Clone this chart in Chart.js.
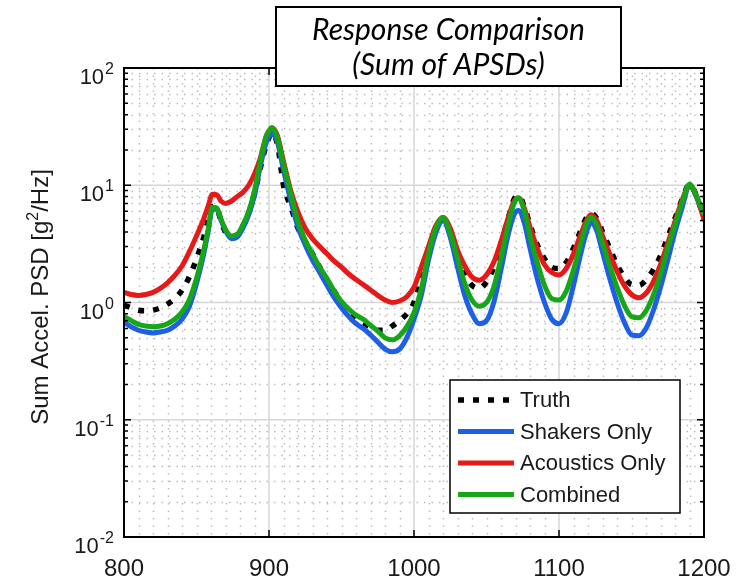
<!DOCTYPE html>
<html>
<head>
<meta charset="utf-8">
<script src="https://cdn.jsdelivr.net/npm/chart.js@4/dist/chart.umd.min.js"></script>
<style>
  html, body { margin: 0; padding: 0; background: #fff; }
  #wrap { width: 749px; height: 579px; }
</style>
</head>
<body>
<div id="wrap"><canvas id="psd" width="749" height="579"></canvas></div>
<script>
// frequency axis [Hz]
const freq = [800, 805, 810, 815, 820, 825, 830, 835, 840, 845, 850, 855, 858, 861, 864, 867, 870, 874, 878, 882,
  886, 890, 894, 898, 900, 902, 904, 906, 910, 915, 920, 925, 930, 935, 940, 945, 950, 955, 960, 965, 970, 975,
  980, 985, 990, 995, 1000, 1005, 1010, 1015, 1020, 1025, 1030, 1035, 1040, 1045, 1050, 1055, 1060, 1065, 1069, 1072,
  1076, 1080, 1085, 1090, 1095, 1100, 1105, 1110, 1115, 1119, 1122, 1126, 1130, 1135, 1140, 1145, 1150, 1155, 1160, 1165,
  1170, 1175, 1180, 1185, 1190, 1195, 1200];

// summed APSDs [g^2/Hz]
const truth = [0.95, 0.9, 0.86, 0.85, 0.86, 0.9, 0.97, 1.08, 1.27, 1.65, 2.35, 3.6, 5.0, 6.6, 6.4, 4.9, 4.0, 3.6, 3.8, 4.5,
  5.8, 8.5, 14, 22, 25.5, 28, 26, 22, 10, 6.6, 4.3, 3.3, 2.6, 2.0, 1.55, 1.25, 1.0, 0.85, 0.75, 0.67, 0.62, 0.58,
  0.58, 0.63, 0.7, 0.8, 1.0, 1.6, 2.8, 4.3, 5.2, 4.1, 2.6, 1.75, 1.4, 1.32, 1.5, 2.0, 3.2, 5.2, 7.6, 8.2,
  6.6, 4.6, 3.1, 2.35, 2.0, 1.95, 2.2, 2.9, 4.1, 5.3, 5.8, 5.2, 4.0, 2.9, 2.1, 1.65, 1.42, 1.4, 1.55, 1.9,
  2.5, 3.6, 5.2, 7.6, 10.2, 8.0, 5.2];

const shakers = [0.68, 0.62, 0.58, 0.56, 0.55, 0.56, 0.58, 0.63, 0.72, 0.92, 1.45, 2.6, 4.0, 6.3, 6.2, 5.0, 4.1, 3.5, 3.6, 4.3,
  5.6, 8.2, 14.5, 23, 26, 28, 26.5, 23, 13.5, 7.4, 4.4, 3.1, 2.3, 1.8, 1.4, 1.1, 0.9, 0.76, 0.66, 0.6, 0.53, 0.46,
  0.4, 0.38, 0.4, 0.5, 0.72, 1.15, 2.3, 3.9, 5.0, 3.6, 2.0, 1.15, 0.8, 0.66, 0.7, 1.0, 1.9, 3.8, 5.6, 6.1,
  4.8, 2.9, 1.6, 1.0, 0.72, 0.66, 0.82, 1.4, 2.6, 4.0, 4.8, 4.1, 2.7, 1.6, 1.0, 0.68, 0.53, 0.52, 0.6, 0.85,
  1.35, 2.3, 4.0, 6.5, 10, 7.8, 5.4];

const acoustics = [1.22, 1.17, 1.15, 1.17, 1.22, 1.32, 1.47, 1.7, 2.05, 2.7, 3.7, 5.2, 6.6, 8.4, 8.3, 7.3, 7.0, 7.3, 8.0, 8.7,
  10.0, 12.5, 17, 26, 29, 31, 29.5, 26, 16, 9.0, 5.9, 4.3, 3.5, 3.0, 2.6, 2.25, 2.0, 1.75, 1.57, 1.42, 1.28, 1.15,
  1.05, 1.0, 1.03, 1.12, 1.35, 2.0, 3.0, 4.5, 5.3, 4.3, 2.8, 2.05, 1.65, 1.55, 1.72, 2.2, 3.3, 5.3, 7.3, 7.8,
  6.4, 4.4, 2.9, 2.1, 1.8, 1.72, 1.95, 2.6, 3.8, 5.0, 5.6, 5.0, 3.7, 2.6, 1.85, 1.4, 1.17, 1.1, 1.2, 1.5,
  2.1, 3.2, 4.9, 7.5, 10.0, 8.0, 5.1];

const combined = [0.76, 0.7, 0.65, 0.63, 0.62, 0.63, 0.66, 0.72, 0.83, 1.05, 1.6, 2.8, 4.2, 6.5, 6.4, 5.1, 4.2, 3.7, 3.8, 4.6,
  6.0, 9.0, 16, 26, 29, 31, 29, 25, 15, 8.5, 4.9, 3.4, 2.6, 2.0, 1.6, 1.25, 1.02, 0.88, 0.78, 0.72, 0.64, 0.57,
  0.5, 0.48, 0.52, 0.62, 0.82, 1.3, 2.6, 4.3, 5.3, 3.9, 2.4, 1.45, 1.05, 0.93, 1.0, 1.35, 2.4, 4.6, 7.0, 7.8,
  6.1, 3.7, 2.2, 1.4, 1.08, 1.05, 1.25, 1.9, 3.2, 4.7, 5.35, 4.6, 3.2, 2.05, 1.35, 0.95, 0.76, 0.74, 0.85, 1.15,
  1.75, 2.9, 4.6, 7.2, 10.2, 8.0, 5.6];

const xTicks = [800, 900, 1000, 1100, 1200];
const yExponents = [-2, -1, 0, 1, 2];
const titleLines = ['Response Comparison', '(Sum of APSDs)'];

function series(values) {
  return values.map((v, i) => ({ x: freq[i], y: v }));
}

const datasets = [
  { label: 'Truth', data: series(truth), borderColor: '#000000', borderWidth: 5.5, borderDash: [6, 9], order: 4 },
  { label: 'Shakers Only', data: series(shakers), borderColor: '#1f5fe8', borderWidth: 5, order: 3 },
  { label: 'Acoustics Only', data: series(acoustics), borderColor: '#e61818', borderWidth: 5, order: 2 },
  { label: 'Combined', data: series(combined), borderColor: '#17a617', borderWidth: 5, order: 1 }
];
datasets.forEach(d => {
  d.pointRadius = 0;
  d.fill = false;
  d.cubicInterpolationMode = 'monotone';
  d.borderCapStyle = 'butt';
});

const SANS = '"Liberation Sans", Arial, sans-serif';

// MATLAB-style axes: grid, box, ticks, labels, legend and title box
const axesDecor = {
  id: 'axesDecor',
  beforeDatasetsDraw(chart) {
    const { ctx, chartArea: a, scales: { x, y } } = chart;
    ctx.save();
    ctx.lineWidth = 1.5;
    // minor grid (dotted)
    ctx.strokeStyle = '#bdbdbd';
    ctx.setLineDash([1.5, 6]);
    for (let f = 810; f < 1200; f += 10) {
      if (f % 100 === 0) continue;
      const px = Math.round(x.getPixelForValue(f)) + 0.5;
      ctx.beginPath(); ctx.moveTo(px, a.top); ctx.lineTo(px, a.bottom); ctx.stroke();
    }
    for (let e = -2; e < 2; e++) {
      for (let m = 2; m <= 9; m++) {
        const py = Math.round(y.getPixelForValue(m * Math.pow(10, e))) + 0.5;
        ctx.beginPath(); ctx.moveTo(a.left, py); ctx.lineTo(a.right, py); ctx.stroke();
      }
    }
    // major grid (solid)
    ctx.setLineDash([]);
    ctx.strokeStyle = '#d6d6d6';
    xTicks.forEach(f => {
      const px = x.getPixelForValue(f);
      ctx.beginPath(); ctx.moveTo(px, a.top); ctx.lineTo(px, a.bottom); ctx.stroke();
    });
    yExponents.forEach(e => {
      const py = y.getPixelForValue(Math.pow(10, e));
      ctx.beginPath(); ctx.moveTo(a.left, py); ctx.lineTo(a.right, py); ctx.stroke();
    });
    ctx.restore();
  },
  afterDatasetsDraw(chart) {
    const { ctx, chartArea: a, scales: { x, y } } = chart;
    ctx.save();

    // tick marks, inside the box
    ctx.strokeStyle = '#000';
    ctx.lineWidth = 1.5;
    xTicks.forEach(f => {
      const px = x.getPixelForValue(f);
      ctx.beginPath();
      ctx.moveTo(px, a.bottom); ctx.lineTo(px, a.bottom - 7);
      ctx.moveTo(px, a.top); ctx.lineTo(px, a.top + 7);
      ctx.stroke();
    });
    for (let e = -2; e <= 2; e++) {
      for (let m = 1; m <= 9; m++) {
        if (e === 2 && m > 1) break;
        const py = y.getPixelForValue(m * Math.pow(10, e));
        const len = m === 1 ? 7 : 4;
        ctx.beginPath();
        ctx.moveTo(a.left, py); ctx.lineTo(a.left + len, py);
        ctx.moveTo(a.right, py); ctx.lineTo(a.right - len, py);
        ctx.stroke();
      }
    }

    // box
    ctx.lineWidth = 2;
    ctx.strokeRect(a.left, a.top, a.right - a.left, a.bottom - a.top);

    // x tick labels
    ctx.fillStyle = '#1a1a1a';
    ctx.font = '24px ' + SANS;
    ctx.textAlign = 'center';
    ctx.textBaseline = 'alphabetic';
    xTicks.forEach(f => ctx.fillText(String(f), x.getPixelForValue(f), 576));

    // y tick labels 10^n
    yExponents.forEach(e => {
      const py = y.getPixelForValue(Math.pow(10, e));
      const exp = String(e);
      ctx.font = '16px ' + SANS;
      const ew = ctx.measureText(exp).width;
      ctx.textAlign = 'right';
      ctx.fillText(exp, 114, py + 6);
      ctx.font = '22px ' + SANS;
      ctx.fillText('10', 114 - ew - 1, py + 16);
    });

    // y axis title with superscript
    ctx.save();
    ctx.translate(48, 297);
    ctx.rotate(-Math.PI / 2);
    const parts = [['Sum Accel. PSD [g', 24, 0], ['2', 16, -10], ['/Hz]', 24, 0]];
    let total = 0;
    parts.forEach(p => { ctx.font = p[1] + 'px ' + SANS; total += ctx.measureText(p[0]).width; });
    let cx = -total / 2;
    ctx.textAlign = 'left';
    parts.forEach(p => {
      ctx.font = p[1] + 'px ' + SANS;
      ctx.fillText(p[0], cx, p[2]);
      cx += ctx.measureText(p[0]).width;
    });
    ctx.restore();

    // legend
    const lg = { left: 450, top: 380, right: 680, bottom: 513 };
    ctx.fillStyle = '#fff';
    ctx.fillRect(lg.left, lg.top, lg.right - lg.left, lg.bottom - lg.top);
    ctx.strokeStyle = '#000';
    ctx.lineWidth = 1.5;
    ctx.strokeRect(lg.left, lg.top, lg.right - lg.left, lg.bottom - lg.top);
    chart.data.datasets.forEach((d, i) => {
      const ly = 400 + i * 31.5;
      ctx.strokeStyle = d.borderColor;
      ctx.lineWidth = d.borderWidth;
      ctx.setLineDash(d.borderDash || []);
      ctx.beginPath(); ctx.moveTo(458, ly); ctx.lineTo(514, ly); ctx.stroke();
      ctx.setLineDash([]);
      ctx.fillStyle = '#1a1a1a';
      ctx.font = '22px ' + SANS;
      ctx.textAlign = 'left';
      ctx.textBaseline = 'middle';
      ctx.fillText(d.label, 520, ly + 1);
    });

    // title box
    ctx.fillStyle = '#fff';
    ctx.fillRect(276, 7, 345, 79);
    ctx.strokeStyle = '#000';
    ctx.lineWidth = 2;
    ctx.strokeRect(276, 7, 345, 79);
    ctx.fillStyle = '#000';
    ctx.font = 'italic 30px Lato, "Open Sans", sans-serif';
    ctx.textAlign = 'center';
    ctx.textBaseline = 'middle';
    ctx.fillText(titleLines[0], 448.5, 30);
    ctx.fillText(titleLines[1], 448.5, 65);

    ctx.restore();
  }
};

new Chart(document.getElementById('psd'), {
  type: 'line',
  data: { datasets: datasets },
  options: {
    responsive: false,
    animation: false,
    layout: { padding: { left: 124, right: 45, top: 68, bottom: 42 } },
    scales: {
      x: { type: 'linear', min: 800, max: 1200, display: false },
      y: { type: 'logarithmic', min: 0.01, max: 100, display: false }
    },
    plugins: { legend: { display: false }, tooltip: { enabled: false } }
  },
  plugins: [axesDecor]
});
</script>
</body>
</html>
